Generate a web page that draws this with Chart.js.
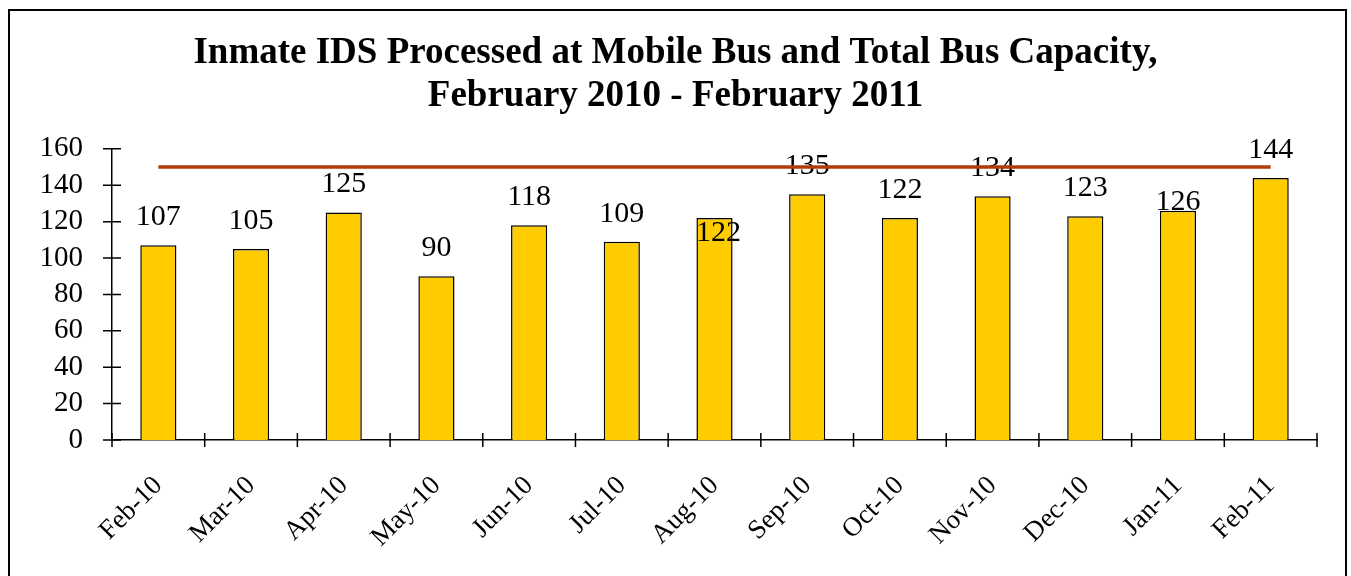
<!DOCTYPE html>
<html>
<head>
<meta charset="utf-8">
<script src="https://cdn.jsdelivr.net/npm/chart.js@4/dist/chart.umd.min.js"></script>
<style>
html,body{margin:0;padding:0;background:#fff;}
canvas{display:block;}
</style>
</head>
<body>
<canvas id="c" width="1351" height="576"></canvas>
<script>
const categories = ['Feb-10','Mar-10','Apr-10','May-10','Jun-10','Jul-10','Aug-10','Sep-10','Oct-10','Nov-10','Dec-10','Jan-11','Feb-11'];
const processed = [107,105,125,90,118,109,122,135,122,134,123,126,144];
const capacity = [150,150,150,150,150,150,150,150,150,150,150,150,150];
const yTicks = [0,20,40,60,80,100,120,140,160];

const FONT = "'Liberation Serif','Times New Roman',serif";
// per-label nudges (label style, not data)
const labelNudge = {6: {dx: 4, dy: 43}, 11: {dx: 0, dy: 19}};

const frame = {
  id: 'frame',
  beforeDraw(chart) {
    const ctx = chart.ctx;
    ctx.save();
    ctx.fillStyle = '#fff';
    ctx.fillRect(0, 0, chart.width, chart.height);
    ctx.strokeStyle = '#000';
    ctx.lineWidth = 2;
    ctx.strokeRect(9, 10, 1337, 620);
    ctx.restore();
  },
  afterDraw(chart) {
    const ctx = chart.ctx, xs = chart.scales.x, ys = chart.scales.y;
    ctx.save();
    ctx.strokeStyle = '#000';
    ctx.lineWidth = 1.5;
    ctx.beginPath();
    ys.ticks.forEach((t, i) => {
      const py = ys.getPixelForTick(i);
      ctx.moveTo(ys.right - 9, py); ctx.lineTo(ys.right + 9, py);
    });
    const n = xs.ticks.length, w = (xs.right - xs.left) / n;
    for (let k = 0; k <= n; k++) {
      const px = xs.left + k * w;
      ctx.moveTo(px, xs.top - 7); ctx.lineTo(px, xs.top + 7);
    }
    ctx.stroke();
    ctx.restore();
  },
  afterDatasetDraw(chart, args) {
    if (args.index !== 0) return;
    const ctx = chart.ctx;
    ctx.save();
    ctx.font = '30px ' + FONT;
    ctx.fillStyle = '#000';
    ctx.textAlign = 'center';
    ctx.textBaseline = 'middle';
    args.meta.data.forEach((el, i) => {
      const nd = labelNudge[i] || {dx: 0, dy: 0};
      ctx.fillText(String(processed[i]), el.x + nd.dx, el.y - 28 + nd.dy);
    });
    ctx.restore();
  }
};

new Chart(document.getElementById('c'), {
  type: 'bar',
  data: {
    labels: categories,
    datasets: [
      {
        type: 'bar',
        label: 'Inmate IDS Processed',
        data: processed,
        backgroundColor: '#FFCC00',
        borderColor: '#000',
        borderWidth: 1.5,
        categoryPercentage: 1,
        barPercentage: 0.39,
        order: 1
      },
      {
        type: 'line',
        label: 'Total Bus Capacity',
        data: capacity,
        borderColor: '#B03C0C',
        borderWidth: 3.5,
        pointRadius: 0,
        fill: false,
        order: 0
      }
    ]
  },
  options: {
    responsive: false,
    animation: false,
    events: [],
    layout: {padding: {left: 0, right: 0, top: 0, bottom: 0}},
    plugins: {
      legend: {display: false},
      tooltip: {enabled: false},
      title: {
        display: true,
        text: ['Inmate IDS Processed at Mobile Bus and Total Bus Capacity,', 'February 2010 - February 2011'],
        color: '#000',
        font: {family: FONT, size: 37, weight: 'bold', lineHeight: 1.16},
        padding: {top: 32, bottom: 31}
      }
    },
    scales: {
      x: {
        offset: true,
        grid: {display: false, drawTicks: false},
        border: {display: true, color: '#000', width: 1.5},
        ticks: {
          color: '#000',
          font: {family: FONT, size: 27},
          minRotation: 45,
          maxRotation: 45,
          padding: 30,
          autoSkip: false
        },
        afterFit(s) { s.height = 136; }
      },
      y: {
        min: 0,
        max: 160,
        afterBuildTicks(s) { s.ticks = yTicks.map(v => ({value: v})); },
        grid: {display: false, drawTicks: false},
        border: {display: true, color: '#000', width: 1.5},
        ticks: {
          color: '#000',
          font: {family: FONT, size: 29},
          padding: 29,
          autoSkip: false
        },
        afterFit(s) { s.width = 112; }
      },
      yRight: {
        position: 'right',
        display: true,
        min: 0,
        max: 160,
        grid: {display: false, drawTicks: false},
        border: {display: false},
        ticks: {display: false},
        afterFit(s) { s.width = 34; }
      }
    }
  },
  plugins: [frame]
});
</script>
</body>
</html>
